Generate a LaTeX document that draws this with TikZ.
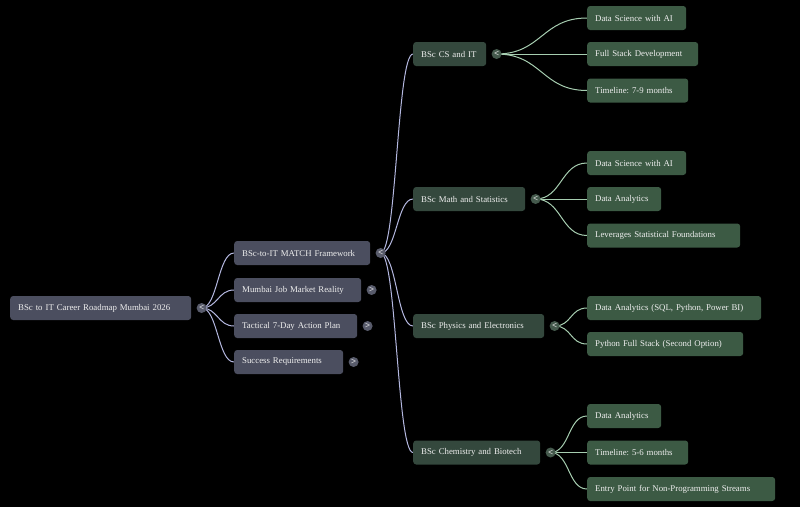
\documentclass[tikz,border=0pt]{standalone}
\usepackage{fontspec}
\setmainfont{Liberation Serif}
\usetikzlibrary{positioning,backgrounds}
\definecolor{slate}{HTML}{4B4E5F}
\definecolor{stem}{HTML}{34483D}
\definecolor{leafgreen}{HTML}{3C5A44}
\definecolor{slatedot}{HTML}{585B6B}
\definecolor{stemdot}{HTML}{44594C}
\definecolor{lavender}{HTML}{B4B8E0}
\definecolor{mint}{HTML}{A6CDB0}
\definecolor{ink}{HTML}{EEEEEE}
\frenchspacing

\begin{document}
\begin{tikzpicture}[
    x=1pt, y=-1pt,
    node distance=5pt,
    box/.style={rounded corners=3pt, anchor=west, inner xsep=8pt, minimum height=24pt, text width=#1, align=left, text=ink, font=\fontsize{8.8}{11}\selectfont},
    topic/.style={box=#1, fill=slate},
    stream/.style={box=#1, fill=stem},
    leaf/.style={box=#1, fill=leafgreen},
    toggle/.style={circle, inner sep=0pt, minimum size=10pt, text=ink, font=\fontsize{9}{9}\selectfont\bfseries},
    link/.style={line width=1pt, to path={.. controls +(#1,0) and +(-#1,0) .. (\tikztotarget)}}
]
\useasboundingbox (0,0) rectangle (800,507);

\node[topic=165pt] (root) at (10,308) {BSc to IT Career Roadmap Mumbai 2026};

\node[topic=120pt] (match) at (234,253) {BSc-to-IT MATCH Framework};
\node[topic=111pt] (market) at (234,290) {Mumbai Job Market Reality};
\node[topic=107pt] (plan) at (234,326) {Tactical 7-Day Action Plan};
\node[topic=93pt] (needs) at (234,362) {Success Requirements};

\node[stream=57pt] (csit) at (413,54) {BSc CS and IT};
\node[stream=96pt] (math) at (413,199) {BSc Math and Statistics};
\node[stream=115pt] (phys) at (413,326) {BSc Physics and Electronics};
\node[stream=111pt] (chem) at (413,452.5) {BSc Chemistry and Biotech};

\node[leaf=83pt] (csai) at (587,18) {Data Science with AI};
\node[leaf=95pt] (csfull) at (587,54) {Full Stack Development};
\node[leaf=85pt] (cstime) at (587,90.5) {Timeline: 7-9 months};
\node[leaf=83pt] (mathai) at (587,163) {Data Science with AI};
\node[leaf=58pt] (mathda) at (587,199) {Data Analytics};
\node[leaf=137pt] (mathstat) at (587,235.5) {Leverages Statistical Foundations};
\node[leaf=158pt] (physda) at (587,308) {Data Analytics (SQL, Python, Power BI)};
\node[leaf=140pt] (physpy) at (587,344) {Python Full Stack (Second Option)};
\node[leaf=58pt] (chemda) at (587,416) {Data Analytics};
\node[leaf=85pt] (chemtime) at (587,452.5) {Timeline: 5-6 months};
\node[leaf=172pt] (chementry) at (587,489) {Entry Point for Non-Programming Streams};

\node[toggle, fill=slatedot, right=of root] (troot) {<};
\node[toggle, fill=slatedot, right=of match] (tmatch) {<};
\node[toggle, fill=slatedot, right=of market] (tmarket) {>};
\node[toggle, fill=slatedot, right=of plan] (tplan) {>};
\node[toggle, fill=slatedot, right=of needs] (tneeds) {>};
\node[toggle, fill=stemdot, right=of csit] (tcsit) {<};
\node[toggle, fill=stemdot, right=of math] (tmath) {<};
\node[toggle, fill=stemdot, right=of phys] (tphys) {<};
\node[toggle, fill=stemdot, right=of chem] (tchem) {<};

\begin{pgfonlayer}{background}
\fill[black] (0,0) rectangle (800,507);
\foreach \kid in {match,market,plan,needs}
  \draw[link=16, lavender] (troot.center) to (\kid.west);
\foreach \kid in {csit,math,phys,chem}
  \draw[link=16, lavender] (tmatch.center) to (\kid.west);
\foreach \kid in {csai,csfull,cstime}
  \draw[link=45, mint] (tcsit.center) to (\kid.west);
\foreach \kid in {mathai,mathda,mathstat}
  \draw[link=26, mint] (tmath.center) to (\kid.west);
\foreach \kid in {physda,physpy}
  \draw[link=17, mint] (tphys.center) to (\kid.west);
\foreach \kid in {chemda,chemtime,chementry}
  \draw[link=19, mint] (tchem.center) to (\kid.west);
\end{pgfonlayer}
\end{tikzpicture}
\end{document}
